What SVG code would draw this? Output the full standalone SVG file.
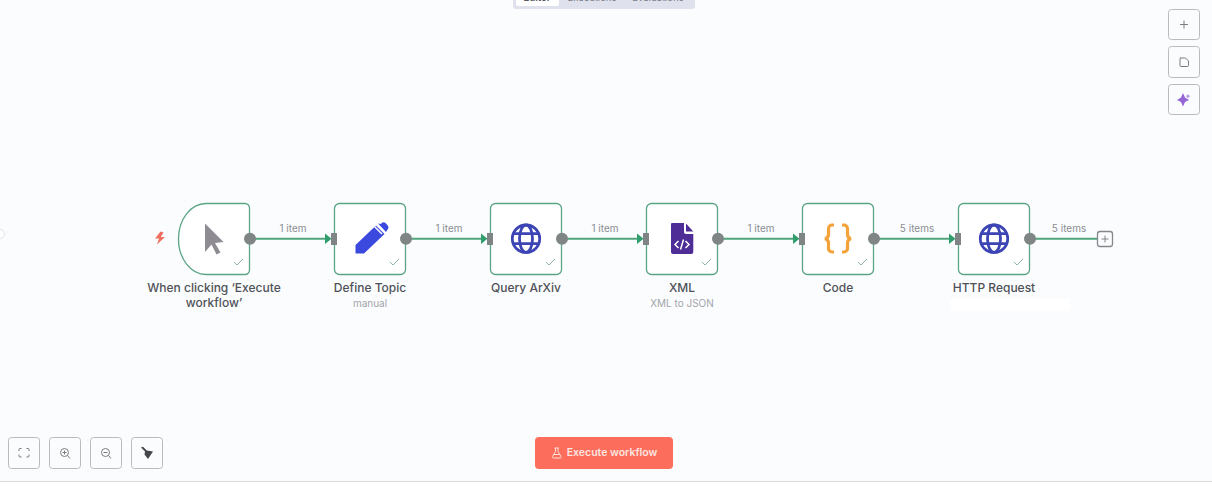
<svg xmlns="http://www.w3.org/2000/svg" width="1212" height="488" viewBox="0 0 1212 488">
<style>
text{font-family:Inter,"Liberation Sans",sans-serif}
.card{fill:#fff;stroke:#5aa585;stroke-width:1.3}
.out{fill:#7f8484}
.in{fill:#7f8484}
.wire{fill:none;stroke:#4fa47c;stroke-width:2}
.head{fill:#2f9e6b}
.lbl{font-size:10px;fill:#8a8d92;text-anchor:middle}
.name{font-size:12px;fill:#4f5258;text-anchor:middle;font-weight:500}
.sub{font-size:10px;fill:#a2a5aa;text-anchor:middle}
.check{fill:none;stroke:#8fb5a3;stroke-width:1}
.btn{fill:#fbfcfe;stroke:#b9bbc0;stroke-width:1}
.ic{fill:none;stroke:#7a7c80;stroke-width:1}
.globe{fill:none;stroke:#3d45b5;stroke-width:2.800}
</style>
<defs>
<pattern id="dots" width="16" height="16" patternUnits="userSpaceOnUse"><circle cx="8" cy="8" r=".8" fill="#e8eaf0"/></pattern>
<g id="globe"><circle r="13.700"/><ellipse rx="6.500" ry="13.700"/><path d="M-13-5H13M-13 5H13"/></g>
<path id="tick" d="M0 3.500L3 6.500L9 0.500"/>
<filter id="soft" x="-10%" y="-100%" width="120%" height="300%"><feGaussianBlur stdDeviation="1.500"/></filter>
</defs>
<rect width="1212" height="488" fill="#fbfcfe"/>
<rect width="1212" height="481" fill="url(#dots)"/>
<rect y="481" width="1212" height="7" fill="#fff"/>
<path d="M0 481.500H1212" stroke="#d9dade" stroke-width="1"/>
<path d="M0 229.500a4.500 4.500 0 0 1 0 9" fill="#fff" stroke="#e2e3e7"/>

<g id="tabs">
<rect x="513" y="-6" width="182" height="15" rx="3" fill="#dfe2ec"/>
<rect x="516" y="-6" width="43" height="12" rx="2" fill="#fff"/>
<text x="537" y="1" font-size="9.500" font-weight="600" fill="#55585f" text-anchor="middle">Editor</text>
<text x="592" y="1" font-size="9.500" fill="#7a7d85" text-anchor="middle">Executions</text>
<text x="658" y="1" font-size="9.500" fill="#7a7d85" text-anchor="middle">Evaluations</text>
</g>

<g id="connectors">
<path class="wire" d="M250 238.700H326"/><path class="head" d="M325 233.500L331.500 238.700L325 244z"/>
<path class="wire" d="M406 238.700H482"/><path class="head" d="M481 233.500L487.500 238.700L481 244z"/>
<path class="wire" d="M562 238.700H638"/><path class="head" d="M637 233.500L643.500 238.700L637 244z"/>
<path class="wire" d="M718 238.700H794"/><path class="head" d="M793 233.500L799.500 238.700L793 244z"/>
<path class="wire" d="M874 238.700H950"/><path class="head" d="M949 233.500L955.500 238.700L949 244z"/>
<path class="wire" d="M1030 238.700H1097"/>
<text class="lbl" x="293" y="232">1 item</text>
<text class="lbl" x="449" y="232">1 item</text>
<text class="lbl" x="605" y="232">1 item</text>
<text class="lbl" x="761" y="232">1 item</text>
<text class="lbl" x="917" y="232">5 items</text>
<text class="lbl" x="1069" y="232">5 items</text>
</g>

<g id="trigger">
<path d="M160.500 231.500L155 238.500H159L157 244.500L165 237H160.800L163.500 232.500z" fill="#f0705f"/>
<path class="card" d="M206 203.500H245a4.500 4.500 0 0 1 4.500 4.500V270a4.500 4.500 0 0 1-4.500 4.500H206a27.500 35.500 0 0 1-27.500-35.500a27.500 35.500 0 0 1 27.500-35.500z"/>
<path d="M205 223.500L223.500 242L215 243L220.500 252.500L216.500 254.500L211.500 244.500L205 252z" fill="#8e8c92"/>
<use href="#tick" class="check" x="234" y="258.500"/>
<circle class="out" cx="250" cy="238.700" r="6"/>
<text class="name" x="214" y="292">When clicking ‘Execute</text>
<text class="name" x="214" y="307">workflow’</text>
</g>

<g id="define-topic">
<rect class="card" x="334.500" y="203.500" width="71" height="71" rx="5"/>
<rect class="in" x="331" y="233" width="6" height="12"/>
<path d="M355.500 253.500V245L376 225.500L384.500 234L364 253.500z" fill="#3b49df"/>
<path d="M378 223.500L381 224l.7-.900a3 3 0 0 1 3.800 0l2.300 2.300a3 3 0 0 1 0 3.800L386 232z" fill="#3b49df"/>
<path d="M374.500 226.500L382 234" stroke="#fff" stroke-width="1.500" fill="none"/>
<use href="#tick" class="check" x="390" y="258.500"/>
<circle class="out" cx="406" cy="238.700" r="6"/>
<text class="name" x="370" y="292">Define Topic</text>
<text class="sub" x="370" y="307">manual</text>
</g>

<g id="query-arxiv">
<rect class="card" x="490.500" y="203.500" width="71" height="71" rx="5"/>
<rect class="in" x="487" y="233" width="6" height="12"/>
<use href="#globe" class="globe" x="526" y="238.700"/>
<use href="#tick" class="check" x="546" y="258.500"/>
<circle class="out" cx="562" cy="238.700" r="6"/>
<text class="name" x="526" y="292">Query ArXiv</text>
</g>

<g id="xml">
<rect class="card" x="646.500" y="203.500" width="71" height="71" rx="5"/>
<rect class="in" x="643" y="233" width="6" height="12"/>
<path d="M671 224a1 1 0 0 1 1-1H684V232a2 2 0 0 0 2 2H693.300V252a2 2 0 0 1-2 2H673a2 2 0 0 1-2-2z" fill="#4f2d96"/>
<path d="M686 223.500L693.300 231.500H686z" fill="#4f2d96"/>
<path d="M678.500 241L675 244.500L678.500 248M685.500 241L689 244.500L685.500 248M683.500 239.500L680.500 249.500" fill="none" stroke="#fff" stroke-width="1.500"/>
<use href="#tick" class="check" x="702" y="258.500"/>
<circle class="out" cx="718" cy="238.700" r="6"/>
<text class="name" x="682" y="292">XML</text>
<text class="sub" x="682" y="307">XML to JSON</text>
</g>

<g id="code">
<rect class="card" x="802.500" y="203.500" width="71" height="71" rx="5"/>
<rect class="in" x="799" y="233" width="6" height="12"/>
<path d="M834 225H832a3.500 3.500 0 0 0-3.500 3.500V234a4.500 4.500 0 0 1-3.500 4.700a4.500 4.500 0 0 1 3.500 4.700V248.500a3.500 3.500 0 0 0 3.500 3.500H834M842 225H844a3.500 3.500 0 0 1 3.500 3.500V234a4.500 4.500 0 0 0 3.500 4.700a4.500 4.500 0 0 0-3.500 4.700V248.500a3.500 3.500 0 0 1-3.500 3.500H842" fill="none" stroke="#f3a33a" stroke-width="3.200"/>
<use href="#tick" class="check" x="858" y="258.500"/>
<circle class="out" cx="874" cy="238.700" r="6"/>
<text class="name" x="838" y="292">Code</text>
</g>

<g id="http-request">
<rect class="card" x="958.500" y="203.500" width="71" height="71" rx="5"/>
<rect class="in" x="955" y="233" width="6" height="12"/>
<use href="#globe" class="globe" x="994" y="238.700"/>
<use href="#tick" class="check" x="1014" y="258.500"/>
<circle class="out" cx="1030" cy="238.700" r="6"/>
<text class="name" x="994" y="292">HTTP Request</text>
<rect x="950" y="299" width="120" height="12" fill="#fff" filter="url(#soft)"/>
<path d="M953 299H1034" stroke="#d4d5d9" stroke-width="1.200" filter="url(#soft)"/>
</g>

<g id="add-node">
<rect x="1097.500" y="231.500" width="15" height="15" rx="2.500" fill="#fbfcfe" stroke="#84878c" stroke-width="1.300"/>
<path d="M1105 235.500V242.500M1101.500 239H1108.500" stroke="#84878c" stroke-width="1"/>
</g>

<g id="top-right-buttons">
<rect class="btn" x="1168.500" y="9.500" width="31" height="30" rx="3"/>
<path class="ic" d="M1184 20.500V28.500M1180 24.500H1188"/>
<rect class="btn" x="1168.500" y="46.500" width="31" height="31" rx="3"/>
<path class="ic" d="M1180.500 58H1185.500L1188.500 61V65.500a1 1 0 0 1-1 1H1181a1 1 0 0 1-1-1V59a1 1 0 0 1 1-1z" stroke="#4a4c50"/>
<rect class="btn" x="1168.500" y="84.500" width="31" height="30" rx="3"/>
<path d="M1183 93L1185 97.500L1189 100L1185 102L1183 106.500L1181 102L1177 100L1181 97.500z" fill="#9466d6"/>
<path d="M1188 94L1189 95.500L1190.500 96L1189 97L1188 98.500L1187 97L1185.500 96L1187 95.500z" fill="#b79ae4"/>
</g>

<g id="bottom-left-buttons">
<rect class="btn" x="8.500" y="437.500" width="31" height="31" rx="3"/>
<path class="ic" d="M21.500 448.500H20a1 1 0 0 0-1 1V451M26.500 448.500H28a1 1 0 0 1 1 1V451M19 454.500V456a1 1 0 0 0 1 1H21.500M29 454.500V456a1 1 0 0 1-1 1H26.500" stroke="#55585c"/>
<rect class="btn" x="49.500" y="437.500" width="31" height="31" rx="3"/>
<circle class="ic" cx="64.500" cy="452.500" r="4" stroke="#55585c"/>
<path class="ic" d="M67.500 455.500L70 458.500M62.500 452.500H66.500M64.500 450.500V454.500" stroke="#55585c"/>
<rect class="btn" x="90.500" y="437.500" width="31" height="31" rx="3"/>
<circle class="ic" cx="105.500" cy="452.500" r="4" stroke="#55585c"/>
<path class="ic" d="M108.500 455.500L111 458.500M103.500 452.500H107.500" stroke="#55585c"/>
<rect class="btn" x="131.500" y="437.500" width="31" height="31" rx="3"/>
<path d="M141 447.500L143 446.800L146.800 450.500L153 451.500L148 459L144.500 454.500L145 451.500z" fill="#44464a"/>
</g>

<g id="execute-button">
<rect x="535" y="437" width="138" height="32" rx="4" fill="#fc6d5b"/>
<path d="M555.500 448V451.500L552.500 456.500a1 1 0 0 0 1 1.500H560a1 1 0 0 0 1-1.500L558 451.500V448M554.500 448H559M553.500 454.500H560" fill="none" stroke="#fde0da" stroke-width="1"/>
<text x="612" y="456" font-size="10.500" font-weight="600" fill="#fde6e1" text-anchor="middle">Execute workflow</text>
</g>
</svg>
